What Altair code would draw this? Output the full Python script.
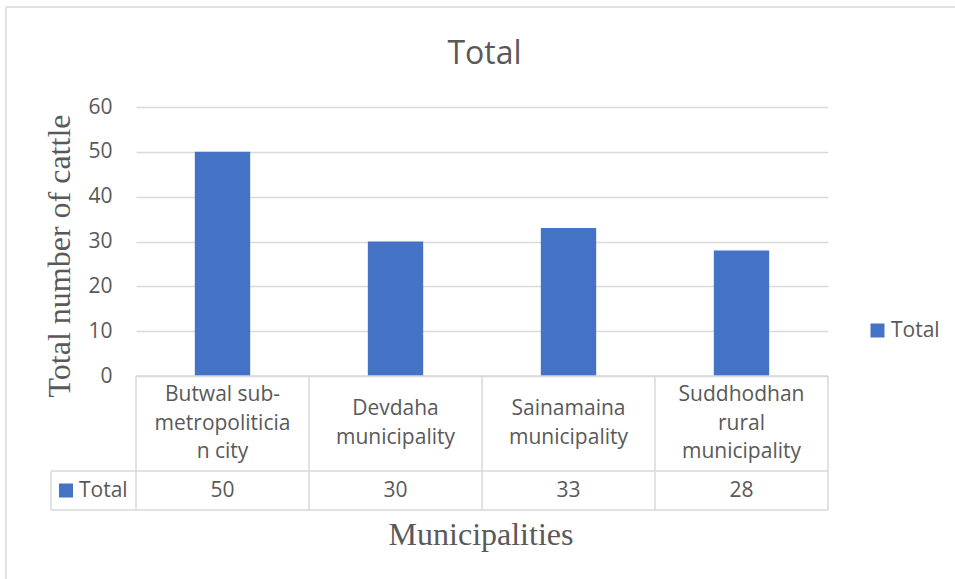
import altair as alt
import pandas as pd

# ---- data ----
categories = [
    "Butwal sub-metropolitician city",
    "Devdaha municipality",
    "Sainamaina municipality",
    "Suddhodhan rural municipality",
]
category_labels = [
    "Butwal sub-\nmetropoliticia\nn city",
    "Devdaha\nmunicipality",
    "Sainamaina\nmunicipality",
    "Suddhodhan\nrural\nmunicipality",
]
totals = [50, 30, 33, 28]
series_name = "Total"
y_ticks = [0, 10, 20, 30, 40, 50, 60]
chart_title = "Total"
y_title = "Total number of cattle"
x_title = "Municipalities"

df = pd.DataFrame({
    "Municipality": categories,
    "Label": category_labels,
    "Total": totals,
    "Series": [series_name] * len(categories),
})
series_df = pd.DataFrame({"Series": [series_name]})
one = pd.DataFrame({"k": [0]})

# ---- style ----
W, H = 692, 269
GRAY = "#595959"
LINE = "#D9D9D9"
BLUE = "#4472C4"
SANS = "Open Sans"
SERIF = "Liberation Serif"
ROW1 = H + 95     # bottom of category row
ROW2 = ROW1 + 39  # bottom of value row
LH = 28.5         # line height of category labels

x_enc = alt.X("Municipality:N", sort=categories,
              scale=alt.Scale(paddingInner=0, paddingOuter=0), axis=None)
color_enc = alt.Color(
    "Series:N",
    scale=alt.Scale(domain=[series_name], range=[BLUE]),
    legend=alt.Legend(
        orient="none", legendX=731, legendY=213, title=None,
        symbolType="square", symbolSize=196, symbolStrokeWidth=0,
        labelFont=SANS, labelFontSize=21, labelColor=GRAY, labelOffset=3,
        padding=0,
    ),
)

base = alt.Chart(df)

bars = base.mark_bar(width=alt.RelativeBandSize(0.32)).encode(
    x=x_enc,
    y=alt.Y(
        "Total:Q",
        scale=alt.Scale(domain=[0, 60], nice=False),
        axis=alt.Axis(
            values=y_ticks, title=None, domain=False, ticks=False,
            labelFont=SANS, labelFontSize=21, labelColor=GRAY, labelPadding=24,
            grid=True, gridColor=LINE, gridWidth=1.5,
        ),
    ),
    color=color_enc,
)

def rule(x1, x2, y1, y2):
    return alt.Chart(one).mark_rule(color=LINE, strokeWidth=1.5).encode(
        x=alt.value(x1), x2=alt.value(x2), y=alt.value(y1), y2=alt.value(y2)
    )

# table grid
band_edges = base.mark_rule(color=LINE, strokeWidth=1.5).encode(
    x=alt.X("Municipality:N", sort=categories, bandPosition=0, axis=None),
    y=alt.value(H), y2=alt.value(ROW2),
)
grid_lines = [
    rule(0, W, H, H),
    rule(-85, W, ROW1, ROW1),
    rule(-85, W, ROW2, ROW2),
    rule(W, W, H, ROW2),
    rule(-85, -85, ROW1, ROW2),
    # outer chart border (top, left)
    rule(-130, 830, -100, -100),
    rule(-130, -130, -100, 480),
]

cat_mid = (H + ROW1) / 2
cat_base = base.transform_calculate(
    nlines="split(datum.Label, '\\n').length"
).mark_text(
    font=SANS, fontSize=21, color=GRAY, lineBreak="\n", lineHeight=LH,
    baseline="middle", align="center",
)
cat_text3 = cat_base.transform_filter("datum.nlines == 3").encode(
    x=x_enc, y=alt.value(cat_mid - LH), text="Label:N")
cat_text2 = cat_base.transform_filter("datum.nlines == 2").encode(
    x=x_enc, y=alt.value(cat_mid - LH / 2), text="Label:N")

val_text = base.mark_text(
    font=SANS, fontSize=21, color=GRAY, baseline="middle", align="center",
).encode(x=x_enc, y=alt.value((ROW1 + ROW2) / 2), text="Total:Q")

key_square = alt.Chart(series_df).mark_point(
    shape="square", size=196, filled=True, opacity=1
).encode(x=alt.value(-70), y=alt.value((ROW1 + ROW2) / 2), color=color_enc)

key_text = alt.Chart(series_df).mark_text(
    font=SANS, fontSize=21, color=GRAY, baseline="middle", align="left",
).encode(x=alt.value(-57), y=alt.value((ROW1 + ROW2) / 2), text="Series:N")

title_text = alt.Chart(one).mark_text(
    text=chart_title, font=SANS, fontSize=32, color=GRAY,
    align="center", baseline="alphabetic",
).encode(x=alt.value(348.5), y=alt.value(-43))

ytitle_text = alt.Chart(one).mark_text(
    text=y_title, font=SERIF, fontSize=32, color=GRAY, angle=270,
    align="center", baseline="alphabetic",
).encode(x=alt.value(-66), y=alt.value(149))

xtitle_text = alt.Chart(one).mark_text(
    text=x_title, font=SERIF, fontSize=32, color=GRAY,
    align="center", baseline="alphabetic",
).encode(x=alt.value(345), y=alt.value(438))

chart = alt.layer(
    bars, band_edges, *grid_lines, cat_text3, cat_text2, val_text,
    key_square, key_text, title_text, ytitle_text, xtitle_text,
).properties(
    width=W, height=H,
    autosize=alt.AutoSizeParams(type="none"),
    padding={"left": 136, "top": 107, "right": 127, "bottom": 203},
    background="white",
).configure_view(stroke=None)

chart.save("out.html", embed_options={"renderer": "svg", "actions": False})
